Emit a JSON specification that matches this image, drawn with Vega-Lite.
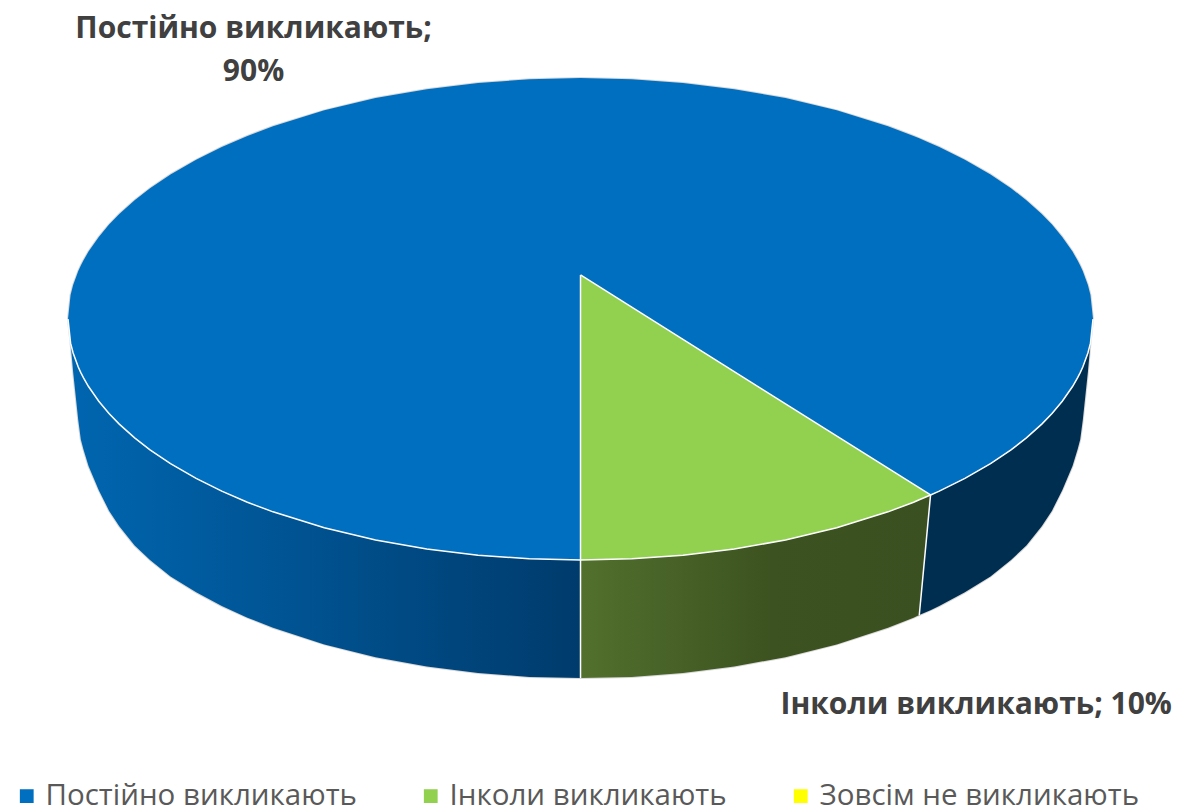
{
"$schema":"https://vega.github.io/schema/vega-lite/v6.json",
"width":1178,"height":808,"padding":0,"autosize":{"type":"none"},"background":"white",
"config":{"view":{"stroke":null}},
"datasets":{
"ellipse":[
{"series":"Постійно викликають","x":-100,"top":0,"rim":0,"base":0},
{"series":"Постійно викликають","x":-99.5,"top":10,"rim":-10,"base":-10},
{"series":"Постійно викликають","x":-99,"top":14.1,"rim":-14.1,"base":-22},
{"series":"Постійно викликають","x":-98,"top":19.9,"rim":-19.9,"base":-42},
{"series":"Постійно викликають","x":-97.5,"top":22.2,"rim":-22.2,"base":-50},
{"series":"Постійно викликають","x":-97,"top":24.3,"rim":-24.3,"base":-54},
{"series":"Постійно викликають","x":-96,"top":28,"rim":-28,"base":-61},
{"series":"Постійно викликають","x":-94,"top":34.1,"rim":-34.1,"base":-71},
{"series":"Постійно викликають","x":-92,"top":39.2,"rim":-39.2,"base":-79.5},
{"series":"Постійно викликають","x":-90,"top":43.6,"rim":-43.6,"base":-86},
{"series":"Постійно викликають","x":-87,"top":49.3,"rim":-49.3,"base":-94},
{"series":"Постійно викликають","x":-84,"top":54.3,"rim":-54.3,"base":-100},
{"series":"Постійно викликають","x":-80,"top":60,"rim":-60,"base":-106.8},
{"series":"Постійно викликають","x":-75,"top":66.1,"rim":-66.1,"base":-113.4},
{"series":"Постійно викликають","x":-70,"top":71.4,"rim":-71.4,"base":-119.1},
{"series":"Постійно викликають","x":-65,"top":76,"rim":-76,"base":-123.9},
{"series":"Постійно викликають","x":-60,"top":80,"rim":-80,"base":-128.1},
{"series":"Постійно викликають","x":-50,"top":86.6,"rim":-86.6,"base":-135},
{"series":"Постійно викликають","x":-40,"top":91.7,"rim":-91.7,"base":-140.3},
{"series":"Постійно викликають","x":-30,"top":95.4,"rim":-95.4,"base":-144.2},
{"series":"Постійно викликають","x":-20,"top":98,"rim":-98,"base":-146.9},
{"series":"Постійно викликають","x":-10,"top":99.5,"rim":-99.5,"base":-148.5},
{"series":"Постійно викликають","x":0,"top":100,"rim":-100,"base":-149},
{"series":"Постійно викликають","x":10,"top":99.5,"rim":-99.5,"base":-148.5},
{"series":"Постійно викликають","x":20,"top":98,"rim":-98,"base":-146.9},
{"series":"Постійно викликають","x":30,"top":95.4,"rim":-95.4,"base":-144.2},
{"series":"Постійно викликають","x":40,"top":91.7,"rim":-91.7,"base":-140.3},
{"series":"Постійно викликають","x":50,"top":86.6,"rim":-86.6,"base":-135},
{"series":"Постійно викликають","x":60,"top":80,"rim":-80,"base":-128.1},
{"series":"Постійно викликають","x":65,"top":76,"rim":-76,"base":-123.9},
{"series":"Постійно викликають","x":66.1,"top":75,"rim":-75,"base":-122.8},
{"series":"Постійно викликають","x":68.3,"top":73,"rim":-73,"base":-120.8},
{"series":"Постійно викликають","x":70,"top":71.4,"rim":-71.4,"base":-119.1},
{"series":"Постійно викликають","x":75,"top":66.1,"rim":-66.1,"base":-113.4},
{"series":"Постійно викликають","x":80,"top":60,"rim":-60,"base":-106.8},
{"series":"Постійно викликають","x":84,"top":54.3,"rim":-54.3,"base":-100},
{"series":"Постійно викликають","x":87,"top":49.3,"rim":-49.3,"base":-94},
{"series":"Постійно викликають","x":90,"top":43.6,"rim":-43.6,"base":-86},
{"series":"Постійно викликають","x":92,"top":39.2,"rim":-39.2,"base":-79.5},
{"series":"Постійно викликають","x":94,"top":34.1,"rim":-34.1,"base":-71},
{"series":"Постійно викликають","x":96,"top":28,"rim":-28,"base":-61},
{"series":"Постійно викликають","x":97,"top":24.3,"rim":-24.3,"base":-54},
{"series":"Постійно викликають","x":97.5,"top":22.2,"rim":-22.2,"base":-50},
{"series":"Постійно викликають","x":98,"top":19.9,"rim":-19.9,"base":-42},
{"series":"Постійно викликають","x":99,"top":14.1,"rim":-14.1,"base":-22},
{"series":"Постійно викликають","x":99.5,"top":10,"rim":-10,"base":-10},
{"series":"Постійно викликають","x":100,"top":0,"rim":0,"base":0}
],
"wedge":[
{"series":"Інколи викликають","x":0,"top":18.3,"rim":-100,"base":-149},
{"series":"Інколи викликають","x":10,"top":4.9,"rim":-99.5,"base":-148.5},
{"series":"Інколи викликають","x":20,"top":-8.4,"rim":-98,"base":-146.9},
{"series":"Інколи викликають","x":30,"top":-21.8,"rim":-95.4,"base":-144.2},
{"series":"Інколи викликають","x":40,"top":-35.2,"rim":-91.7,"base":-140.3},
{"series":"Інколи викликають","x":50,"top":-48.5,"rim":-86.6,"base":-135},
{"series":"Інколи викликають","x":60,"top":-61.9,"rim":-80,"base":-128.1},
{"series":"Інколи викликають","x":65,"top":-68.6,"rim":-76,"base":-123.9},
{"series":"Інколи викликають","x":66.1,"top":-70.1,"rim":-75,"base":-122.8},
{"series":"Інколи викликають","x":68.3,"top":-73,"rim":-73,"base":-73}
],
"edges":[
{"edge":"a","x":0,"y":18.3},{"edge":"a","x":68.3,"y":-73},
{"edge":"b","x":0,"y":18.3},{"edge":"b","x":0,"y":-149},
{"edge":"c","x":66.1,"y":-122.8},{"edge":"c","x":68.3,"y":-73}
],
"labels":[
{"label":"Постійно викликають;","x":-63.8,"y":120.4},
{"label":"90%","x":-63.8,"y":102.5},
{"label":"Інколи викликають; 10%","x":77.2,"y":-160.1}
]
},
"encoding":{
"x":{"type":"quantitative","scale":{"domain":[-113.27,116.58],"nice":false,"zero":false},"axis":null},
"y":{"type":"quantitative","scale":{"domain":[-202.9,132.4],"nice":false,"zero":false},"axis":null}
},
"layer":[
{"data":{"name":"ellipse"},"mark":{"type":"line","color":"#d9d9d9","strokeWidth":2},"encoding":{"x":{"field":"x"},"y":{"field":"top"}}},
{"data":{"name":"ellipse"},"mark":{"type":"line","color":"#d9d9d9","strokeWidth":2},"encoding":{"x":{"field":"x"},"y":{"field":"base"}}},
{"data":{"name":"ellipse"},"transform":[{"filter":"datum.x<=0"}],
 "mark":{"type":"area","color":{"gradient":"linear","x1":0,"y1":0,"x2":1,"y2":0,"stops":[{"offset":0,"color":"#0066B0"},{"offset":1,"color":"#003B6C"}]}},
 "encoding":{"x":{"field":"x"},"y":{"field":"rim","stack":null},"y2":{"field":"base"}}},
{"data":{"name":"ellipse"},"transform":[{"filter":"datum.x>=66.1"}],
 "mark":{"type":"area","color":"#002E50"},
 "encoding":{"x":{"field":"x"},"y":{"field":"rim","stack":null},"y2":{"field":"base"}}},
{"data":{"name":"wedge"},
 "mark":{"type":"area","color":{"gradient":"linear","x1":0,"y1":0,"x2":1,"y2":0,"stops":[{"offset":0,"color":"#52702D"},{"offset":0.55,"color":"#3C5220"},{"offset":1,"color":"#3B5020"}]}},
 "encoding":{"x":{"field":"x"},"y":{"field":"rim","stack":null},"y2":{"field":"base"}}},
{"data":{"name":"ellipse"},"mark":{"type":"area"},
 "encoding":{"x":{"field":"x"},"y":{"field":"top","stack":null},"y2":{"field":"rim"},
  "color":{"field":"series","type":"nominal","sort":null,
   "scale":{"domain":["Постійно викликають","Інколи викликають","Зовсім не викликають"],"range":["#006FC0","#92D050","#FFFF00"]},
   "legend":{"title":null,"orient":"none","legendX":12,"legendY":781,"direction":"horizontal","columns":3,"columnPadding":59,"symbolType":"square","symbolSize":190,"symbolStrokeWidth":0,"labelFont":"Open Sans","labelFontSize":29.5,"labelColor":"#595959","labelLimit":500,"labelOffset":4,"padding":0}}}},
{"data":{"name":"wedge"},"mark":{"type":"area"},
 "encoding":{"x":{"field":"x"},"y":{"field":"top","stack":null},"y2":{"field":"rim"},
  "color":{"field":"series","type":"nominal"}}},
{"data":{"name":"ellipse"},"mark":{"type":"line","color":"white","strokeWidth":1.5},"encoding":{"x":{"field":"x"},"y":{"field":"rim"}}},
{"data":{"name":"edges"},"mark":{"type":"line","color":"white","strokeWidth":1.5},"encoding":{"x":{"field":"x"},"y":{"field":"y"},"detail":{"field":"edge"}}},
{"data":{"name":"labels"},"mark":{"type":"text","font":"Open Sans","fontWeight":"bold","fontSize":30,"color":"#404040","align":"center","baseline":"middle"},
 "encoding":{"x":{"field":"x"},"y":{"field":"y"},"text":{"field":"label"}}}
]
}
